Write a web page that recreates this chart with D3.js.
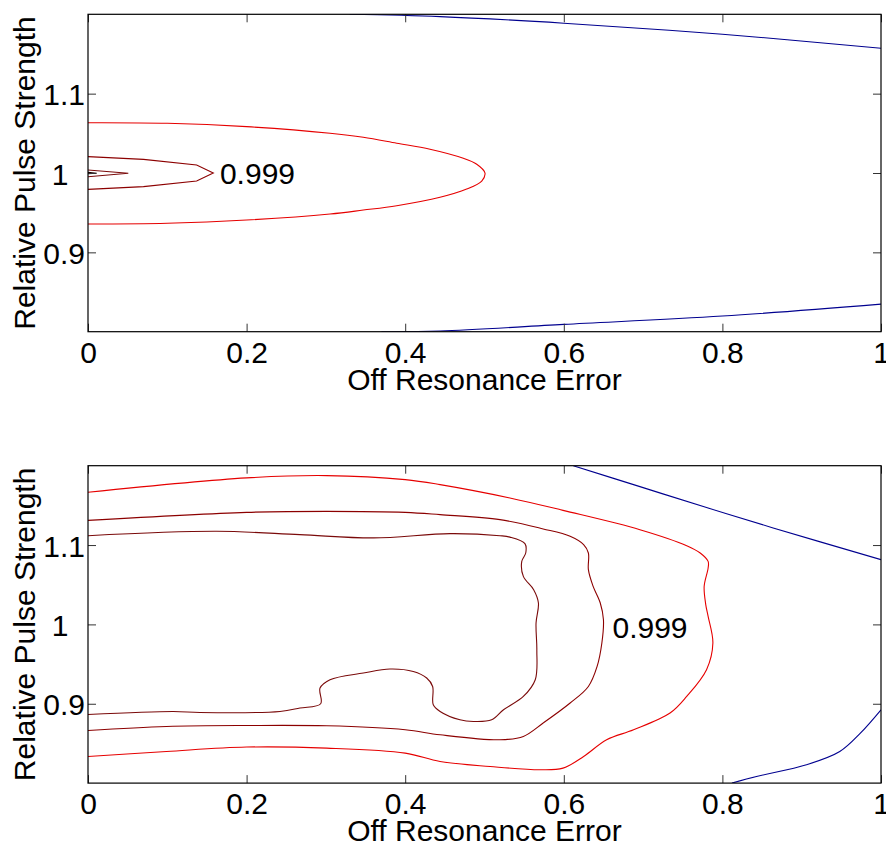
<!DOCTYPE html>
<html>
<head>
<meta charset="utf-8">
<script src="https://cdn.jsdelivr.net/npm/d3@7"></script>
<style>
  html, body { margin: 0; padding: 0; background: #fff; }
  svg { display: block; }
  text { font-family: Helvetica, "Liberation Sans", Arial, sans-serif; }
</style>
</head>
<body>
<div id="chart"></div>
<script>
// ticks
var xTicks = [0, 0.2, 0.4, 0.6, 0.8, 1];
var yTicks = [0.9, 1, 1.1];
var xTitle = 'Off Resonance Error';
var yTitle = 'Relative Pulse Strength';

// top panel contours, [offset, strength]
var topBlueHigh = [[0.33,1.2],[0.444,1.1971],[0.6,1.1888],[0.8,1.1749],[1,1.1573]];
var topBlueLow = [[0.37,0.8],[0.444,0.8008],[0.6,0.8092],[0.8,0.8197],[1,0.8348]];
var topRed = [[0,1.0634],[0.1,1.0627],[0.2,1.0584],[0.3052,1.0501],[0.3472,1.045],[0.3893,1.0375],[0.4313,1.0299],
  [0.4733,1.0185],[0.4902,1.011],[0.5006,1.0],[0.4965,0.9899],[0.4775,0.9798],[0.4439,0.9694],[0.3893,0.9588],
  [0.3472,0.9533],[0.3052,0.9483],[0.2,0.9407],[0.1,0.9366],[0,0.9357]];
var topMid = [[0,1.0206],[0.07,1.0172],[0.137,1.0101],[0.158,1.0],[0.137,0.9899],[0.07,0.9828],[0,0.9794]];
var topInner = [[0,1.0038],[0.0508,0.9997],[0,0.9953]];
var topCore = [[0,1.0008],[0.011,0.9997],[0,0.999]];
var topLabel = [[0.2137,1.0,'0.999']];

// bottom panel contours
var botBlueHigh = [[0.612,1.2],[0.696,1.1736],[0.78,1.1472],[0.864,1.1216],[1,1.0816]];
var botBlueLow = [[0.812,0.8],[0.843,0.8083],[0.906,0.8231],[0.948,0.8398],[0.974,0.863],[1,0.8924]];
var botRed = [[0,1.1665],[0.2,1.1846],[0.301,1.1875],[0.4,1.1825],[0.444,1.1762],[0.532,1.1594],[0.599,1.1437],
  [0.696,1.1194],[0.755,1.0992],[0.772,1.09],[0.782,1.0794],[0.782,1.0711],[0.777,1.048],[0.779,1.025],[0.782,1.0101],
  [0.788,0.9765],[0.78,0.9429],[0.755,0.9092],[0.734,0.8883],[0.688,0.8672],[0.654,0.8546],[0.625,0.8335],[0.599,0.8189],
  [0.57,0.8168],[0.507,0.8209],[0.444,0.8272],[0.4,0.8378],[0.301,0.8441],[0.2,0.8454],[0.099,0.8398],[0,0.8335]];
var botMid = [[0,1.1311],[0.2,1.1412],[0.301,1.1425],[0.4,1.1412],[0.444,1.1383],[0.5195,1.132],[0.574,1.1203],
  [0.608,1.111],[0.625,1.1005],[0.631,1.09],[0.631,1.069],[0.637,1.0479],[0.646,1.027],[0.65,1.0059],[0.648,0.9765],
  [0.642,0.947],[0.631,0.9218],[0.608,0.9009],[0.574,0.8757],[0.549,0.8588],[0.5195,0.8546],[0.444,0.8609],[0.4,0.8672],
  [0.301,0.8722],[0.2,0.8726],[0.099,0.8714],[0,0.8663]];
var botInner = [[0,1.1118],[0.162,1.1173],[0.267,1.1131],[0.36,1.109],[0.4565,1.1144],[0.5195,1.1118],[0.532,1.11],
  [0.551,1.1018],[0.552,1.09],[0.547,1.0794],[0.549,1.0605],[0.562,1.0438],[0.568,1.027],[0.565,1.0018],[0.566,0.9681],
  [0.564,0.9303],[0.549,0.9092],[0.524,0.8924],[0.509,0.8798],[0.486,0.8777],[0.469,0.8798],[0.444,0.8903],
  [0.4354,0.8987],[0.4346,0.9218],[0.4271,0.9324],[0.4102,0.9407],[0.3808,0.9438],[0.3472,0.9387],[0.3052,0.9303],
  [0.2926,0.9198],[0.2934,0.9],[0.2673,0.8946],[0.2421,0.8903],[0.141,0.889],[0.1076,0.8903],[0,0.8865]];
var botLabel = [[0.7087,0.9965,'0.999']];

var colBlue = '#00008f', colRed = '#e60000', colMid = '#8c0000', colInner = '#7a0a0a', colCore = '#200000';

var panels = [
  { top: 14.3, lines: [
      { pts: topBlueHigh, color: colBlue, smooth: true },
      { pts: topBlueLow, color: colBlue, smooth: true },
      { pts: topRed, color: colRed, smooth: true },
      { pts: topMid, color: colMid, smooth: false },
      { pts: topInner, color: colInner, smooth: false },
      { pts: topCore, color: colCore, smooth: false }
    ], labels: topLabel },
  { top: 465.7, lines: [
      { pts: botBlueHigh, color: colBlue, smooth: true },
      { pts: botBlueLow, color: colBlue, smooth: true },
      { pts: botRed, color: colRed, smooth: true },
      { pts: botMid, color: colMid, smooth: true },
      { pts: botInner, color: colInner, smooth: true }
    ], labels: botLabel }
];

var W = 886, H = 844;
var left = 88, plotW = 793, plotH = 317.4;
var fontSize = 30;

var svg = d3.select('#chart').append('svg').attr('width', W).attr('height', H);

var x = d3.scaleLinear().domain([0, 1]).range([0, plotW]);
var y = d3.scaleLinear().domain([0.8, 1.2]).range([plotH, 0]);

// matlab pads the y labels to equal width
function yFmt(d){
  var s = d3.format('~g')(d);
  while (s.length < 3) s += '\u00a0';
  return s;
}

panels.forEach(function(p, i){
  var g = svg.append('g').attr('transform', 'translate(' + left + ',' + p.top + ')');
  var clipId = 'clip' + i;
  g.append('clipPath').attr('id', clipId).append('rect').attr('width', plotW).attr('height', plotH);

  var plot = g.append('g').attr('clip-path', 'url(#' + clipId + ')');
  p.lines.forEach(function(l){
    var line = d3.line()
      .x(function(d){ return x(d[0]); })
      .y(function(d){ return y(d[1]); })
      .curve(l.smooth ? d3.curveCatmullRom.alpha(0.5) : d3.curveLinear);
    plot.append('path').attr('d', line(l.pts))
      .attr('fill', 'none').attr('stroke', l.color).attr('stroke-width', 1.1);
  });

  g.selectAll('.clab').data(p.labels).enter().append('text')
    .attr('x', function(d){ return x(d[0]); })
    .attr('y', function(d){ return y(d[1]); })
    .attr('dy', '0.36em')
    .attr('text-anchor', 'middle')
    .attr('font-size', fontSize)
    .text(function(d){ return d[2]; });

  // axes, ticks pointing inward
  var ax = g.append('g').attr('transform', 'translate(0,' + plotH + ')')
    .call(d3.axisBottom(x).tickValues(xTicks).tickFormat(d3.format('~g')).tickSize(-8).tickPadding(10));
  var axT = g.append('g').call(d3.axisTop(x).tickValues(xTicks).tickFormat('').tickSize(-8));
  var ay = g.append('g')
    .call(d3.axisLeft(y).tickValues(yTicks).tickFormat(yFmt).tickSize(-8).tickPadding(3));
  var ayR = g.append('g').attr('transform', 'translate(' + plotW + ',0)')
    .call(d3.axisRight(y).tickValues(yTicks).tickFormat('').tickSize(-8));

  [ax, axT, ay, ayR].forEach(function(a){
    a.select('.domain').remove();
    a.selectAll('.tick line').attr('stroke', '#333').attr('stroke-width', 1);
    a.selectAll('.tick text').attr('font-size', fontSize).attr('fill', '#000')
      .attr('font-family', 'Helvetica, "Liberation Sans", Arial, sans-serif');
  });
  ay.selectAll('.tick text').attr('dy', '0.37em');

  g.append('rect').attr('width', plotW).attr('height', plotH)
    .attr('fill', 'none').attr('stroke', '#000').attr('stroke-width', 1.2);

  g.append('text')
    .attr('x', plotW / 2).attr('y', plotH + 58)
    .attr('text-anchor', 'middle').attr('font-size', fontSize)
    .text(xTitle);

  g.append('text')
    .attr('transform', 'translate(' + (35 - left) + ',' + (plotH / 2) + ') rotate(-90)')
    .attr('text-anchor', 'middle').attr('font-size', fontSize)
    .text(yTitle);
});
</script>
</body>
</html>
